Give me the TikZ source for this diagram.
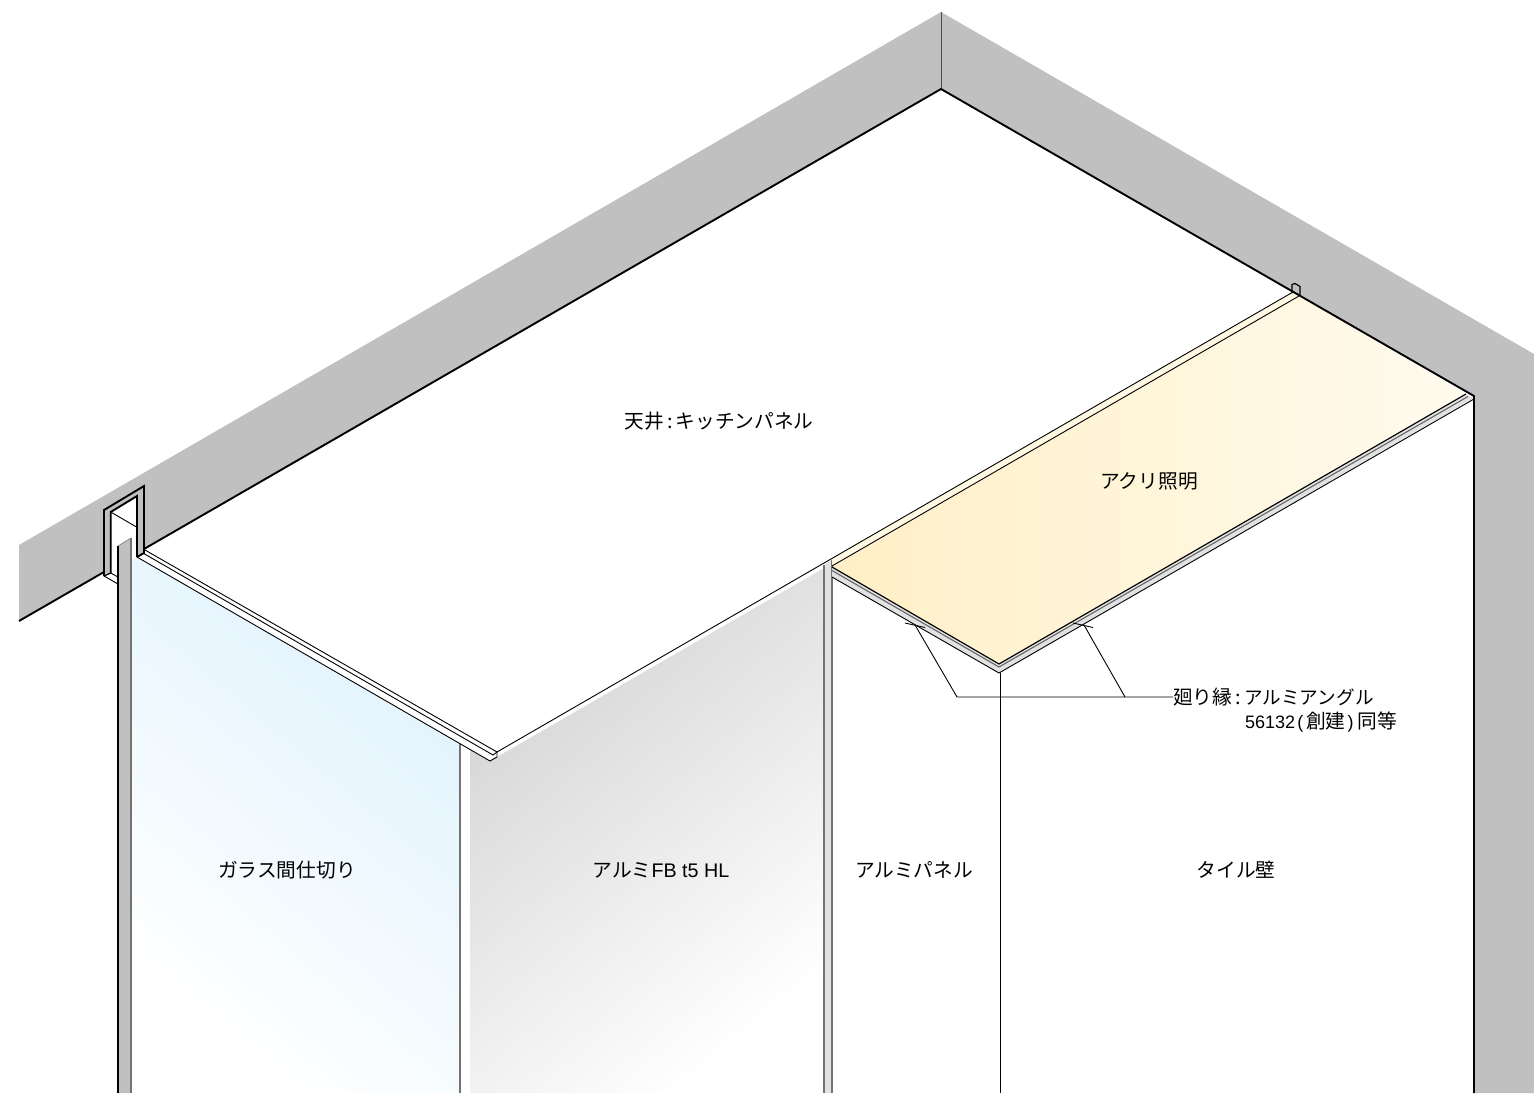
\documentclass[tikz,border=0pt]{standalone}
\usepackage{fontspec}
\setmainfont{Noto Sans CJK JP}
\newfontfamily\latinpart{Liberation Sans}
\definecolor{wallgray}{HTML}{C0C0C0}
\definecolor{bandgray}{HTML}{E2E2E2}
\definecolor{glassA}{HTML}{DFF2FD}
\definecolor{yellowA}{HTML}{FFEFC6}
\definecolor{yellowB}{HTML}{FFFBEE}
\definecolor{yellowStrip}{HTML}{FFF8E2}
\tikzset{
  x=1pt,y=-1pt,
  label/.style={font=\fontsize{19.7}{23}\selectfont,inner sep=0pt,text=black},
  heavy/.style={draw=black,line width=1.9pt,line join=miter},
  med/.style={draw=black,line width=1.2pt,line join=miter},
  thin line/.style={draw=black,line width=0.9pt},
  edge gray/.style={draw=black!55,line width=1.3pt},
}
\begin{document}
\begin{tikzpicture}
\useasboundingbox (0,0) rectangle (1534,1093);
\begin{scope}
\clip (0,0) rectangle (1534,1093);
% wall band
\fill[wallgray] (19,545) -- (941,12) -- (1534,354) -- (1534,1093) -- (1474,1093) -- (1474,396) -- (941,89) -- (19,621) -- cycle;
\draw[draw=black!70,line width=0.9pt] (941,12) -- (941,89);
% glass
\shade[top color=glassA,bottom color=white,shading angle=-40] (131,538) -- (137,546) -- (137,557) -- (460,744) -- (460,1093) -- (131,1093) -- cycle;
% aluminium FB
\shade[top color=black!17,bottom color=white,shading angle=40] (470,750) -- (490,761) -- (497,757) -- (824,568) -- (824,1093) -- (470,1093) -- cycle;
\draw[edge gray] (460,744) -- (460,1093);
% aluminium strip
\fill[bandgray] (824,565) -- (832,560) -- (832,1093) -- (824,1093) -- cycle;
\draw[edge gray] (824,565) -- (824,1093);
\draw[edge gray] (832,560) -- (832,1093);
% acrylic lighting
\fill[yellowStrip] (832,558) -- (1293,292) -- (1299,296) -- (832,566) -- cycle;
\shade[left color=yellowA,right color=yellowB] (832,567) -- (1299,296) -- (1466,394) -- (999,664) -- cycle;
% perimeter band
\fill[bandgray] (832,568) -- (999,665) -- (1466,395) -- (1474,398) -- (999,673) -- (832,577) -- cycle;
\draw[draw=black!60,line width=1.1pt] (832,570.5) -- (999,667) -- (1468,396.5);
\draw[med] (832,567) -- (999,664) -- (1466,394);
\draw[thin line] (832,577) -- (999,673) -- (1474,399);
\draw[thin line] (832,566) -- (1299,296);
\draw[thin line] (497,752) -- (1293,292);
% ceiling edge
\draw[heavy] (19,621) -- (104,572);
\draw[heavy] (144,549) -- (941,89) -- (1474,396) -- (1474,1093);
% trim at left of ceiling
\draw[thin line] (145,550) -- (497,752) -- (497,757) -- (490,761) -- (137,557);
\draw[thin line] (142,552.5) -- (493,755) -- (497,752);
% frame
\fill[wallgray] (104,510) -- (144,486) -- (144,553) -- (137,557) -- (110.7,573) -- (104,576) -- cycle;
\fill[white] (110.7,512) -- (137,496) -- (137,557) -- (110.7,573) -- cycle;
\draw[thin line] (110.7,512) -- (136,526.7);
\draw[thin line] (104,576) -- (118,584);
\draw[thin line] (110.7,573) -- (118,577);
\draw[heavy] (104,576) -- (104,510) -- (144,486) -- (144,553) -- (137,557);
\draw[heavy] (110.7,573) -- (110.7,512) -- (137,496) -- (137,557);
\draw[med] (104,576) -- (110.7,573);
% column
\fill[wallgray] (118,546) -- (131,538) -- (131,1093) -- (118,1093) -- cycle;
\draw[draw=black!50,line width=0.7pt] (118,546) -- (131,538);
\draw[edge gray] (131,538) -- (131,1093);
\draw[med] (118,546) -- (118,1093);
% far bracket
\draw[med] (1292,293) -- (1292,284.5) -- (1295,283.5) -- (1300,286.5) -- (1300,296);
% wall corner
\draw[thin line] (1000,673) -- (1000,1093);
\end{scope}
% labels
\node[label] (ceiling) at (719,421) {天井\,:\,キッチンパネル};
\node[label] (acryl) at (1149,481) {アクリ照明};
\node[label] (glass) at (287,870) {ガラス間仕切り};
\node[label] (fb) at (661,870) {アルミ{\latinpart FB t5 HL}};
\node[label] (panel) at (914,870) {アルミパネル};
\node[label] (tile) at (1236,870) {タイル壁};
\node[label,anchor=west] (calloutA) at (1173,697) {廻り縁\,:\,{\fontsize{18.6}{23}\selectfont アルミアングル}};
\node[label,anchor=west] (calloutB) at (1245,722) {{\latinpart\fontsize{18}{23}\selectfont 56132\kern2pt(\kern3pt}創建{\latinpart\fontsize{18}{23}\selectfont\kern2pt)\kern4pt}同等};
% leaders
\coordinate (hub) at (957,697);
\coordinate (hubB) at (1125,697);
\coordinate (tipA) at (915,625);
\coordinate (tipB) at (1084,625);
\coordinate (tickA1) at (905,623);
\coordinate (tickA2) at (925,627.5);
\coordinate (tickB1) at (1073,623);
\coordinate (tickB2) at (1093,627.5);
\draw[thin line] (calloutA.west) -- (hub) -- (tipA);
\draw[thin line] (hubB) -- (tipB);
\draw[thin line] (tickA1) -- (tickA2);
\draw[thin line] (tickB1) -- (tickB2);
\end{tikzpicture}
\end{document}
